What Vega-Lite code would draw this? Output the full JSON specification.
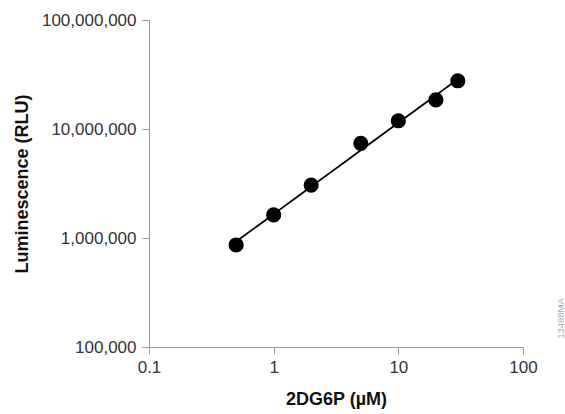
{
  "$schema": "https://vega.github.io/schema/vega-lite/v6.json",
  "width": 374,
  "height": 327,
  "autosize": {"type": "none"},
  "padding": {"left": 149, "top": 20, "right": 42, "bottom": 67},
  "background": "white",
  "config": {
    "view": {"stroke": null},
    "font": "Liberation Sans",
    "axis": {
      "grid": false,
      "labelFlush": false,
      "domainColor": "#999999",
      "tickColor": "#999999",
      "tickSize": 7,
      "labelFont": "Liberation Sans",
      "labelFontSize": 17,
      "labelColor": "#333333",
      "titleFont": "Liberation Sans",
      "titleFontSize": 18,
      "titleFontWeight": "bold",
      "titleColor": "#111111"
    }
  },
  "data": {
    "values": [
      {"conc": 0.5, "rlu": 863000},
      {"conc": 1, "rlu": 1630000},
      {"conc": 2, "rlu": 3060000},
      {"conc": 5, "rlu": 7390000},
      {"conc": 10, "rlu": 11900000},
      {"conc": 20, "rlu": 18500000},
      {"conc": 30, "rlu": 27700000}
    ]
  },
  "resolve": {"axis": {"y": "independent"}},
  "layer": [
    {
      "transform": [
        {"regression": "rlu", "on": "conc", "method": "pow", "extent": [0.5, 30]}
      ],
      "mark": {"type": "line", "color": "#000000", "strokeWidth": 1.8},
      "encoding": {
        "x": {
          "field": "conc", "type": "quantitative",
          "scale": {"type": "log", "domain": [0.1, 100], "nice": false},
          "axis": {"values": [0.1, 1, 10, 100], "format": "~g", "labelPadding": 5, "title": "2DG6P (µM)", "titlePadding": 15}
        },
        "y": {
          "field": "rlu", "type": "quantitative",
          "scale": {"type": "log", "domain": [100000, 100000000], "nice": false},
          "axis": {"values": [100000, 1000000, 10000000, 100000000], "format": ",", "labelPadding": 6, "title": "Luminescence (RLU)", "titlePadding": 10}
        }
      }
    },
    {
      "mark": {"type": "circle", "color": "#000000", "opacity": 1, "size": 230},
      "encoding": {
        "x": {"field": "conc", "type": "quantitative", "scale": {"type": "log", "domain": [0.1, 100], "nice": false}},
        "y": {
          "field": "rlu", "type": "quantitative",
          "scale": {"type": "log", "domain": [100000, 100000000], "nice": false},
          "axis": {
            "orient": "right", "domain": false, "ticks": false, "labels": false,
            "title": "13498MA", "titleFontSize": 9.5, "titleFontWeight": "normal",
            "titleColor": "#aaaaaa", "titleAngle": 270, "titleX": 37, "titleY": 298,
            "titleAlign": "center", "titleBaseline": "middle"
          }
        }
      }
    }
  ]
}
